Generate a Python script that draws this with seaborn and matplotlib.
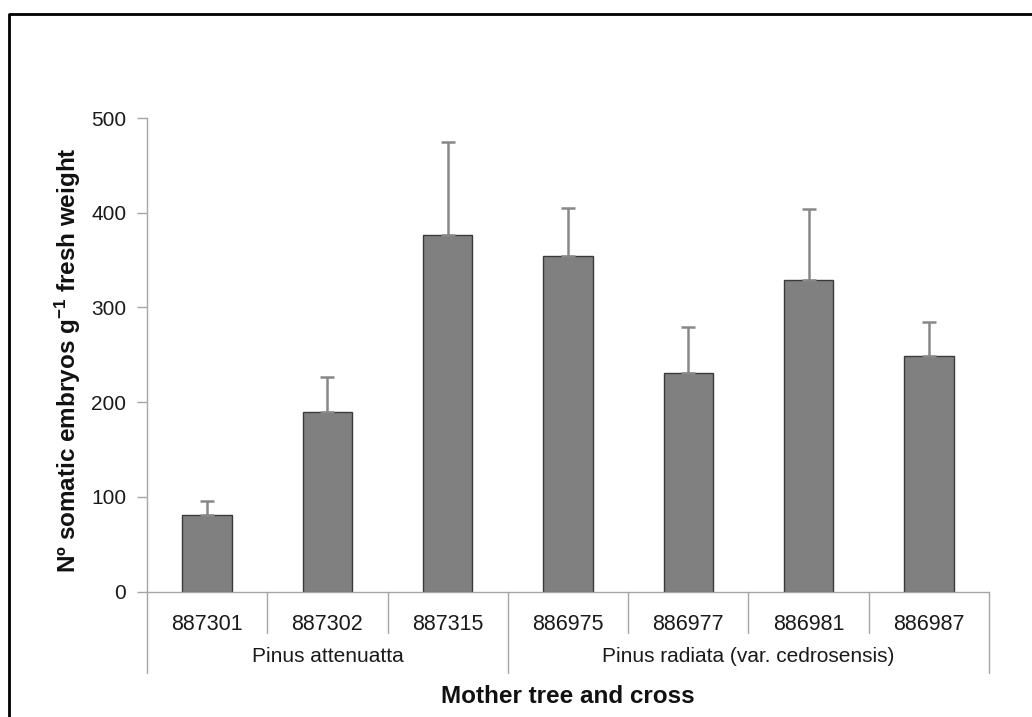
import matplotlib
matplotlib.use("Agg")
import matplotlib.pyplot as plt
from matplotlib.lines import Line2D
import matplotlib.transforms as mtransforms
import seaborn as sns
import pandas as pd

# Somatic embryo yield per mother tree / cross (mean and standard error)
crosses = ["887301", "887302", "887315", "886975", "886977", "886981", "886987"]
species = ["Pinus attenuatta"] * 3 + ["Pinus radiata (var. cedrosensis)"] * 4
embryos = [81, 190, 377, 354, 231, 329, 249]
std_err = [15, 37, 98, 51, 48, 75, 36]
y_ticks = [0, 100, 200, 300, 400, 500]

df = pd.DataFrame({"cross": crosses, "species": species, "embryos": embryos})

sns.set_style("white")
plt.rcParams["font.family"] = ["Liberation Sans", "DejaVu Sans"]
plt.rcParams["mathtext.fontset"] = "custom"
plt.rcParams["mathtext.rm"] = "Liberation Sans"
plt.rcParams["mathtext.bf"] = "Liberation Sans:bold"
plt.rcParams["mathtext.default"] = "bf"

W, H = 1032, 717
fig = plt.figure(figsize=(W / 100, H / 100), dpi=100)
left, right, top, bottom = 147, 989, 118, 591.7
ax = fig.add_axes([left / W, 1 - bottom / H, (right - left) / W, (bottom - top) / H])

sns.barplot(data=df, x="cross", y="embryos", order=crosses, color="#808080",
            saturation=1, width=0.41, edgecolor="#3a3a3a", linewidth=1.0,
            errorbar=None, ax=ax)

# upper-only error bars
ax.errorbar(range(len(crosses)), embryos, yerr=[[0] * len(std_err), std_err],
            fmt="none", ecolor="#888888", elinewidth=1.8, capsize=4.7,
            capthick=1.8, zorder=1)

ax.set_xlim(-0.5, len(crosses) - 0.5)
ax.set_ylim(0, 500)
ax.set_yticks(y_ticks)

grey = "#a6a6a6"
for side in ["top", "right"]:
    ax.spines[side].set_visible(False)
for side in ["left", "bottom"]:
    ax.spines[side].set_color(grey)
    ax.spines[side].set_linewidth(1.0)

ax.tick_params(axis="y", direction="out", length=7, width=1.0, color=grey,
               labelsize=15, pad=8, left=True, labelcolor="#1a1a1a")
ax.tick_params(axis="x", length=0, labelsize=15.5, pad=16, labelcolor="#1a1a1a")

# category and group separators below the axis
trans = mtransforms.blended_transform_factory(ax.transData, ax.transAxes)
h_px = bottom - top
inner_end = -(633 - bottom) / h_px
group_end = -(673 - bottom) / h_px
group_edges = [-0.5, 2.5, len(crosses) - 0.5]
for i in range(len(crosses) + 1):
    x = i - 0.5
    y_end = group_end if x in group_edges else inner_end
    ax.plot([x, x], [0, y_end], color=grey, lw=1.0, transform=trans,
            clip_on=False)

# species group labels
groups = list(dict.fromkeys(species))
for g in groups:
    idx = [i for i, s in enumerate(species) if s == g]
    ax.text(sum(idx) / len(idx), -(657 - bottom) / h_px, g, transform=trans,
            ha="center", va="center", fontsize=15, color="#1a1a1a")

ax.set_xlabel("Mother tree and cross", fontsize=17.5, fontweight="bold",
              color="#111111")
ax.xaxis.set_label_coords(0.5, -(685 - bottom) / h_px)
ax.set_ylabel("N\u00ba somatic embryos g$^{-1}$ fresh weight", fontsize=17.5,
              fontweight="bold", color="#111111")
ax.yaxis.set_label_coords((68 - left) / (right - left), (bottom - 360) / h_px)
ax.yaxis.label.set_verticalalignment("center")

# outer frame (top and left edges)
fig.add_artist(Line2D([9 / W, 9 / W, 1.0], [0.0, 1 - 14 / H, 1 - 14 / H],
                      transform=fig.transFigure, color="black", lw=2.0))

fig.savefig("out.png", dpi=100, facecolor="white")
